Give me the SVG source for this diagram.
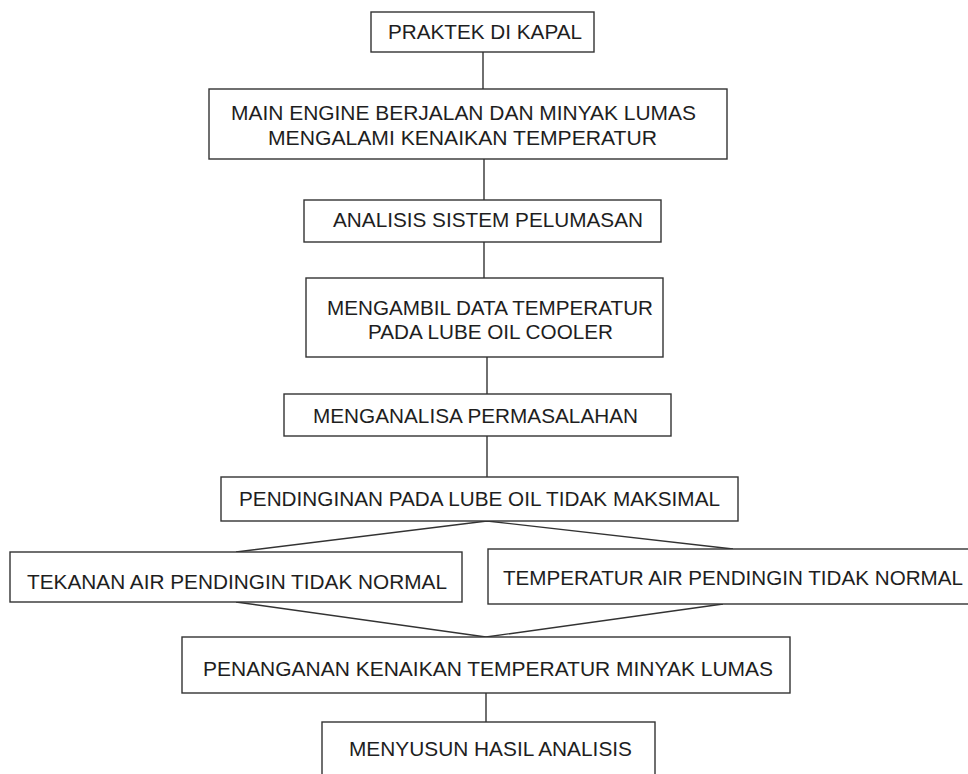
<svg xmlns="http://www.w3.org/2000/svg" width="968" height="774" viewBox="0 0 968 774">
<style>
.box{fill:#fff;stroke:#333;stroke-width:1.4}
.t{font-family:"Liberation Sans",Arial,sans-serif;font-size:19.5px;fill:#1e1e1e}
.c{fill:none;stroke:#333;stroke-width:1.4}
</style>
<rect width="968" height="774" fill="#fff"/>
<g id="connectors">
<line class="c" x1="483" y1="52" x2="483" y2="89"/>
<line class="c" x1="484" y1="159" x2="484" y2="200"/>
<line class="c" x1="484" y1="242" x2="484" y2="278"/>
<line class="c" x1="487" y1="357" x2="487" y2="394"/>
<line class="c" x1="487" y1="436" x2="487" y2="477"/>
<polyline class="c" points="236,552 487,521 733,549"/>
<polyline class="c" points="236,602 486,637 723,604"/>
<line class="c" x1="486" y1="693" x2="486" y2="722"/>
</g>
<g id="n1">
<rect class="box" x="371" y="12" width="223" height="40"/>
<text class="t" x="388" y="39" textLength="194" lengthAdjust="spacingAndGlyphs">PRAKTEK DI KAPAL</text>
</g>
<g id="n2">
<rect class="box" x="209" y="89" width="518" height="70"/>
<text class="t" x="231" y="120" textLength="465" lengthAdjust="spacingAndGlyphs">MAIN ENGINE BERJALAN DAN MINYAK LUMAS</text>
<text class="t" x="268" y="145" textLength="389" lengthAdjust="spacingAndGlyphs">MENGALAMI KENAIKAN TEMPERATUR</text>
</g>
<g id="n3">
<rect class="box" x="304" y="200" width="357" height="42"/>
<text class="t" x="333" y="227" textLength="310" lengthAdjust="spacingAndGlyphs">ANALISIS SISTEM PELUMASAN</text>
</g>
<g id="n4">
<rect class="box" x="306" y="278" width="357" height="79"/>
<text class="t" x="327" y="315" textLength="326" lengthAdjust="spacingAndGlyphs">MENGAMBIL DATA TEMPERATUR</text>
<text class="t" x="368" y="339" textLength="245" lengthAdjust="spacingAndGlyphs">PADA LUBE OIL COOLER</text>
</g>
<g id="n5">
<rect class="box" x="284" y="394" width="387" height="42"/>
<text class="t" x="313" y="423" textLength="325" lengthAdjust="spacingAndGlyphs">MENGANALISA PERMASALAHAN</text>
</g>
<g id="n6">
<rect class="box" x="221" y="477" width="517" height="44"/>
<text class="t" x="239" y="506" textLength="481" lengthAdjust="spacingAndGlyphs">PENDINGINAN PADA LUBE OIL TIDAK MAKSIMAL</text>
</g>
<g id="n7">
<rect class="box" x="10" y="552" width="452" height="50"/>
<text class="t" x="27" y="589" textLength="420" lengthAdjust="spacingAndGlyphs">TEKANAN AIR PENDINGIN TIDAK NORMAL</text>
</g>
<g id="n8">
<rect class="box" x="488" y="549" width="495" height="55"/>
<text class="t" x="503" y="585" textLength="460" lengthAdjust="spacingAndGlyphs">TEMPERATUR AIR PENDINGIN TIDAK NORMAL</text>
</g>
<g id="n9">
<rect class="box" x="182" y="637" width="608" height="56"/>
<text class="t" x="203" y="676" textLength="570" lengthAdjust="spacingAndGlyphs">PENANGANAN KENAIKAN TEMPERATUR MINYAK LUMAS</text>
</g>
<g id="n10">
<rect class="box" x="322" y="722" width="333" height="70"/>
<text class="t" x="349" y="756" textLength="283" lengthAdjust="spacingAndGlyphs">MENYUSUN HASIL ANALISIS</text>
</g>
</svg>
